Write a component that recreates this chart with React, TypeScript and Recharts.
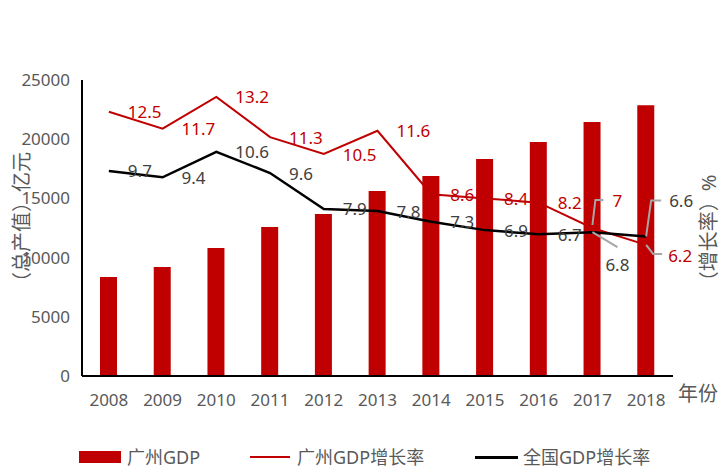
import React from "react";
import { ComposedChart, Bar, Line, XAxis, YAxis, Legend, LabelList } from "recharts";

const years = ["2008", "2009", "2010", "2011", "2012", "2013", "2014", "2015", "2016", "2017", "2018"];
const gzGdp = [8360, 9210, 10810, 12580, 13680, 15620, 16890, 18330, 19760, 21450, 22860];
const gzRate = [12.5, 11.7, 13.2, 11.3, 10.5, 11.6, 8.6, 8.4, 8.2, 7, 6.2];
const cnRate = [9.7, 9.4, 10.6, 9.6, 7.9, 7.8, 7.3, 6.9, 6.7, 6.8, 6.6];
const gdpTicks = [0, 5000, 10000, 15000, 20000, 25000];

const data = years.map((year, i) => ({
  year,
  gzGdp: gzGdp[i],
  gzRate: gzRate[i],
  cnRate: cnRate[i],
}));

const RED = "#c00000";
const GREY = "#595959";
const DARK = "#404040";
const LEADER = "#a6a6a6";
const FONT = "'Noto Sans', 'Noto Sans CJK SC', sans-serif";

// labels pushed off the line (with a leader line), offsets from the point
type Callout = { path: number[][]; dx: number; dy: number; anchor: "start" | "middle" };
const gzCallouts: Record<number, Callout> = {
  9: { path: [[0, -3], [3, -28], [11, -28]], dx: 20, dy: -28, anchor: "start" },
  10: { path: [[0, 0], [7, 9], [16, 9]], dx: 22, dy: 11, anchor: "start" },
};
const cnCallouts: Record<number, Callout> = {
  9: { path: [[0, 0], [25, 15]], dx: 25, dy: 32, anchor: "middle" },
  10: { path: [[0, 0], [5, -36], [15, -36]], dx: 23, dy: -36, anchor: "start" },
};

const pointLabel =
  (values: number[], color: string, callouts: Record<number, Callout>) => (props: any) => {
    const vb = props.viewBox || {};
    const x = props.x ?? vb.x;
    const y = props.y ?? vb.y;
    let i = props.index;
    if (i == null) i = values.indexOf(Number(props.value));
    const text = String(props.value);
    const c = callouts[i];
    if (!c) {
      return (
        <text x={x + 19} y={y} dominantBaseline="central" fill={color} fontSize={17} fontFamily={FONT}>
          {text}
        </text>
      );
    }
    const pts = c.path.map(([dx, dy]) => `${x + dx},${y + dy}`).join(" ");
    return (
      <g>
        <polyline points={pts} fill="none" stroke={LEADER} strokeWidth={2} />
        <text
          x={x + c.dx}
          y={y + c.dy}
          textAnchor={c.anchor}
          dominantBaseline="central"
          fill={color}
          fontSize={17}
          fontFamily={FONT}
        >
          {text}
        </text>
      </g>
    );
  };

const sideTitle = (text: string, dx: number, dy: number) => (props: any) => {
  const vb = props.viewBox;
  const x = vb.x + dx;
  const y = vb.y + vb.height / 2 + dy;
  return (
    <text
      x={x}
      y={y}
      transform={`rotate(-90 ${x} ${y})`}
      textAnchor="middle"
      dominantBaseline="central"
      fill={GREY}
      fontSize={20}
      fontFamily={FONT}
    >
      {text}
    </text>
  );
};

const yearTitle = (props: any) => {
  const vb = props.viewBox;
  return (
    <text
      x={vb.x + vb.width + 5}
      y={vb.y + 17}
      dominantBaseline="central"
      fill={GREY}
      fontSize={20}
      fontFamily={FONT}
    >
      年份
    </text>
  );
};

const item = (left: number): React.CSSProperties => ({
  position: "absolute",
  left,
  top: 0,
  lineHeight: "24px",
  whiteSpace: "nowrap",
});

const renderLegend = () => (
  <div style={{ position: "relative", height: 24, width: 725, fontFamily: FONT, fontSize: 18, color: GREY }}>
    <span style={{ position: "absolute", left: 79, top: 6, width: 42, height: 12, background: RED }} />
    <span style={item(127)}>广州GDP</span>
    <span style={{ position: "absolute", left: 250, top: 11, width: 40, height: 2, background: RED }} />
    <span style={item(297)}>广州GDP增长率</span>
    <span style={{ position: "absolute", left: 475, top: 11, width: 43, height: 2.5, background: "#000" }} />
    <span style={item(523)}>全国GDP增长率</span>
  </div>
);

export default function App() {
  return (
    <div style={{ position: "absolute", left: 0, top: 0, background: "#fff" }}>
      <ComposedChart
        width={725}
        height={476}
        data={data}
        margin={{ top: 80, right: 0, bottom: 46, left: 0 }}
        style={{ fontFamily: FONT }}
      >
        <XAxis
          dataKey="year"
          interval={0}
          height={30}
          axisLine={{ stroke: "#000", strokeWidth: 2 }}
          tickLine={false}
          tickMargin={12}
          tick={{ fill: GREY, fontSize: 17, fontFamily: FONT }}
          label={{ content: yearTitle }}
        />
        <YAxis
          yAxisId="l"
          domain={[0, 25000]}
          ticks={gdpTicks}
          width={82}
          axisLine={{ stroke: "#000", strokeWidth: 2 }}
          tickLine={false}
          tickMargin={6}
          tick={{ fill: GREY, fontSize: 17, fontFamily: FONT }}
          label={{ content: sideTitle("（总产值）亿元", 21, -6) }}
        />
        <YAxis
          yAxisId="r"
          orientation="right"
          domain={[0, 14]}
          width={52}
          axisLine={false}
          tickLine={false}
          tick={false}
          label={{ content: sideTitle("（增长率）%", 35, 5) }}
        />
        <Bar yAxisId="l" dataKey="gzGdp" name="广州GDP" fill={RED} barSize={17} isAnimationActive={false} />
        <Line
          yAxisId="r"
          type="linear"
          dataKey="gzRate"
          name="广州GDP增长率"
          stroke={RED}
          strokeWidth={2}
          dot={false}
          isAnimationActive={false}
        >
          <LabelList dataKey="gzRate" content={pointLabel(gzRate, RED, gzCallouts)} />
        </Line>
        <Line
          yAxisId="r"
          type="linear"
          dataKey="cnRate"
          name="全国GDP增长率"
          stroke="#000"
          strokeWidth={2.5}
          dot={false}
          isAnimationActive={false}
        >
          <LabelList dataKey="cnRate" content={pointLabel(cnRate, DARK, cnCallouts)} />
        </Line>
        <Legend
          verticalAlign="bottom"
          content={renderLegend}
          wrapperStyle={{ left: 0, top: 445, bottom: "auto", width: 725, height: 24 }}
        />
      </ComposedChart>
    </div>
  );
}
